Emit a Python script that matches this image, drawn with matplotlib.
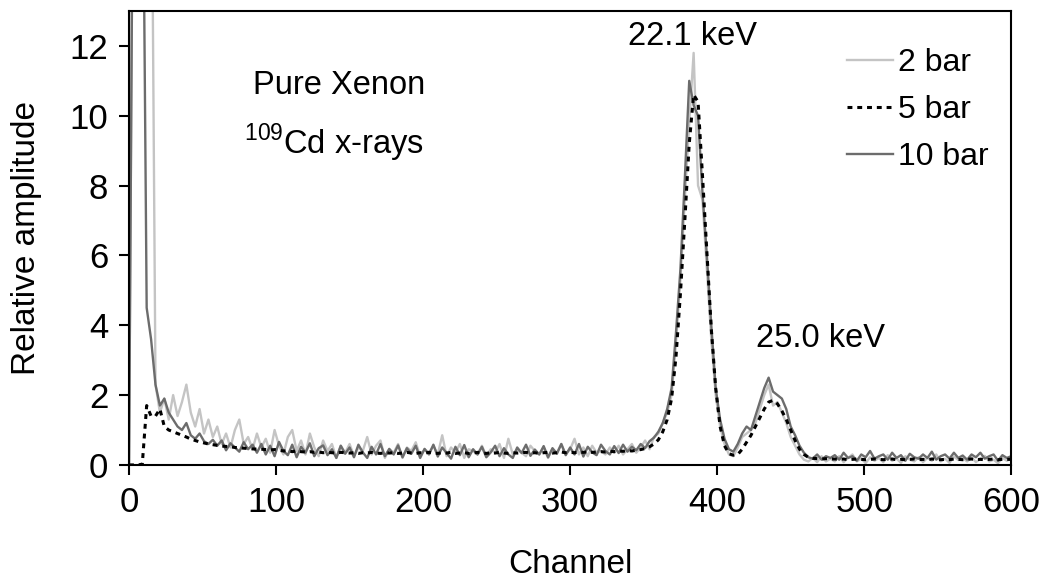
import numpy as np
import matplotlib
matplotlib.use("Agg")
import matplotlib.pyplot as plt

plt.rcParams['font.family'] = ['Liberation Sans', 'DejaVu Sans']
plt.rcParams['mathtext.fontset'] = 'custom'
plt.rcParams['mathtext.rm'] = 'Liberation Sans'

# channel grid, every 3 channels from 0 to 600
channel = np.arange(0, 601, 3)

# 2 bar (light grey)
bar2 = [0, 20, 20, 20, 20, 20, 2.3, 1.5, 1.9, 1.3,
        2.0, 1.4, 1.8, 2.3, 1.5, 1.1, 1.6, 0.9, 1.3, 0.8,
        1.1, 0.6, 0.9, 0.5, 1.0, 1.3, 0.6, 0.8, 0.45, 0.9,
        0.5, 0.75, 0.35, 1.0, 0.55, 0.3, 0.8, 1.0, 0.4, 0.7,
        0.3, 0.9, 0.5, 0.25, 0.7, 0.4, 0.6, 0.2, 0.55, 0.35,
        0.6, 0.25, 0.5, 0.4, 0.8, 0.3, 0.55, 0.7, 0.2, 0.45,
        0.35, 0.6, 0.2, 0.5, 0.4, 0.65, 0.25, 0.45, 0.35, 0.55,
        0.3, 0.85, 0.25, 0.5, 0.35, 0.6, 0.2, 0.45, 0.4, 0.3,
        0.55, 0.25, 0.45, 0.35, 0.6, 0.2, 0.75, 0.3, 0.45, 0.35,
        0.25, 0.55, 0.4, 0.3, 0.5, 0.2, 0.45, 0.35, 0.6, 0.3,
        0.45, 0.75, 0.3, 0.5, 0.25, 0.55, 0.35, 0.4, 0.3, 0.5,
        0.35, 0.55, 0.3, 0.45, 0.6, 0.35, 0.5, 0.7, 0.45, 0.8,
        0.9, 1.2, 1.5, 2.0, 3.5, 5.3, 7.6, 9.8, 11.8, 8.0,
        7.6, 5.6, 3.6, 2.0, 1.1, 0.6, 0.3, 0.25, 0.5, 0.8,
        0.9, 1.0, 1.2, 1.6, 2.0, 2.3, 1.7, 1.8, 1.5, 1.2,
        0.8, 0.55, 0.3, 0.15, 0.1, 0.2, 0.08, 0.25, 0.1, 0.18,
        0.1, 0.25, 0.08, 0.2, 0.3, 0.1, 0.18, 0.05, 0.22, 0.12,
        0.2, 0.08, 0.28, 0.12, 0.18, 0.06, 0.25, 0.15, 0.1, 0.22,
        0.08, 0.2, 0.12, 0.3, 0.1, 0.18, 0.06, 0.24, 0.14, 0.2,
        0.1, 0.22, 0.08, 0.18, 0.26, 0.1, 0.15, 0.05, 0.2, 0.12,
        0.18]

# 5 bar (black dotted)
bar5 = [0, 0, 0, 0.02, 1.7, 1.4, 1.4, 1.6, 1.1, 1.0,
        0.95, 0.9, 0.85, 0.8, 0.74, 0.7, 0.66, 0.63, 0.6, 0.58,
        0.56, 0.54, 0.53, 0.52, 0.5, 0.49, 0.48, 0.47, 0.46, 0.45,
        0.45, 0.44, 0.43, 0.44, 0.42, 0.4, 0.41, 0.38, 0.4, 0.38,
        0.37, 0.38, 0.36, 0.37, 0.35, 0.36, 0.35, 0.34, 0.36, 0.35,
        0.34, 0.35, 0.33, 0.35, 0.34, 0.36, 0.34, 0.33, 0.35, 0.34,
        0.35, 0.33, 0.34, 0.36, 0.34, 0.33, 0.35, 0.34, 0.36, 0.34,
        0.33, 0.35, 0.34, 0.36, 0.33, 0.34, 0.35, 0.33, 0.34, 0.36,
        0.34, 0.33, 0.35, 0.34, 0.36, 0.34, 0.33, 0.35, 0.34, 0.35,
        0.36, 0.34, 0.35, 0.33, 0.35, 0.36, 0.34, 0.35, 0.37, 0.35,
        0.36, 0.35, 0.37, 0.36, 0.38, 0.36, 0.37, 0.38, 0.37, 0.39,
        0.38, 0.4, 0.39, 0.41, 0.4, 0.42, 0.44, 0.47, 0.52, 0.6,
        0.72, 0.95, 1.3, 1.9, 3.1, 4.9, 7.0, 9.2, 10.6, 10.4,
        8.3, 6.1, 3.9, 2.2, 1.1, 0.55, 0.32, 0.28, 0.3, 0.45,
        0.65, 0.85, 1.1, 1.35, 1.6, 1.8, 1.85, 1.75, 1.55, 1.3,
        1.0, 0.7, 0.45, 0.3, 0.22, 0.19, 0.18, 0.17, 0.18, 0.17,
        0.17, 0.16, 0.17, 0.15, 0.16, 0.17, 0.16, 0.15, 0.16, 0.17,
        0.16, 0.15, 0.16, 0.17, 0.15, 0.16, 0.15, 0.16, 0.17, 0.15,
        0.16, 0.15, 0.17, 0.16, 0.15, 0.16, 0.15, 0.17, 0.16, 0.15,
        0.16, 0.17, 0.15, 0.16, 0.15, 0.16, 0.17, 0.15, 0.16, 0.16,
        0.16]

# 10 bar (dark grey)
bar10 = [0, 20, 20, 20, 4.5, 3.6, 2.3, 1.7, 1.9, 1.5,
         1.3, 1.1, 1.0, 1.2, 0.85, 0.75, 0.9, 0.68, 0.6, 0.72,
         0.55, 0.7, 0.42, 0.62, 0.5, 0.38, 0.65, 0.45, 0.58, 0.35,
         0.6, 0.3, 0.55, 0.25, 0.66, 0.4, 0.28, 0.58, 0.22, 0.52,
         0.35, 0.62, 0.25, 0.48, 0.56, 0.28, 0.45, 0.2, 0.55, 0.32,
         0.5, 0.22, 0.58, 0.36, 0.2, 0.52, 0.3, 0.6, 0.25, 0.46,
         0.3, 0.56, 0.22, 0.48, 0.32, 0.55, 0.2, 0.46, 0.3, 0.58,
         0.24, 0.5, 0.34, 0.18, 0.52, 0.28, 0.57, 0.22, 0.45, 0.3,
         0.52, 0.22, 0.36, 0.55, 0.25, 0.48, 0.3, 0.2, 0.5, 0.34,
         0.58, 0.26, 0.44, 0.3, 0.54, 0.22, 0.48, 0.32, 0.6, 0.28,
         0.5, 0.3, 0.6, 0.24, 0.52, 0.36, 0.28, 0.58, 0.4, 0.3,
         0.54, 0.34, 0.58, 0.38, 0.52, 0.42, 0.6, 0.48, 0.68, 0.78,
         0.95, 1.2, 1.6, 2.2, 3.8, 5.6, 8.2, 11.0, 10.3, 10.0,
         7.8, 6.0, 4.0, 2.2, 1.3, 0.75, 0.45, 0.38, 0.6, 0.9,
         1.1, 1.0, 1.4, 1.8, 2.2, 2.5, 2.1, 2.0, 1.9, 1.6,
         1.1, 0.85, 0.55, 0.35, 0.22, 0.18, 0.3, 0.15, 0.25, 0.2,
         0.28, 0.15, 0.35, 0.2, 0.25, 0.12, 0.3, 0.22, 0.4, 0.18,
         0.25, 0.3, 0.15, 0.35, 0.2, 0.28, 0.12, 0.32, 0.22, 0.18,
         0.3, 0.2, 0.38, 0.15, 0.25, 0.3, 0.18, 0.35, 0.2, 0.27,
         0.15, 0.3, 0.22, 0.35, 0.18, 0.25, 0.3, 0.12, 0.28, 0.2,
         0.25]

fig = plt.figure(figsize=(10.49, 5.79), dpi=100)
ax = fig.add_axes([0.123, 0.197, 0.841, 0.784])

ax.plot(channel, bar2, color='#c4c4c4', lw=1.7, label='2 bar')
ax.plot(channel, bar10, color='#6c6c6c', lw=1.7, label='10 bar')
ax.plot(channel, bar5, color='black', lw=2.2, ls=(0, (1.6, 1.6)), label='5 bar')

ax.set_xlim(0, 600)
ax.set_ylim(0, 13)
ax.set_xticks([0, 100, 200, 300, 400, 500, 600])
ax.set_yticks([0, 2, 4, 6, 8, 10, 12])
ax.tick_params(direction='out', length=7, width=1.5, labelsize=25, pad=8,
               top=False, right=False)
for s in ax.spines.values():
    s.set_linewidth(1.5)

ax.set_xlabel('Channel', fontsize=24, labelpad=22)
ax.set_ylabel('Relative amplitude', fontsize=24, labelpad=20)

ax.text(143, 10.86, 'Pure Xenon', fontsize=23.5, ha='center', va='center')
ax.text(139, 9.23, r'$^{109}$Cd x-rays', fontsize=23.5, ha='center', va='center')
ax.text(383, 12.28, '22.1 keV', fontsize=23.5, ha='center', va='center')
ax.text(470, 3.62, '25.0 keV', fontsize=23.5, ha='center', va='center')

h, l = ax.get_legend_handles_labels()
order = [0, 2, 1]
ax.legend([h[i] for i in order], [l[i] for i in order], loc='upper left',
          bbox_to_anchor=(0.814, 0.918), frameon=False, fontsize=23,
          handlelength=1.45, handletextpad=0.15, labelspacing=0.53,
          borderpad=0, borderaxespad=0)

fig.savefig('out.png', dpi=100)
